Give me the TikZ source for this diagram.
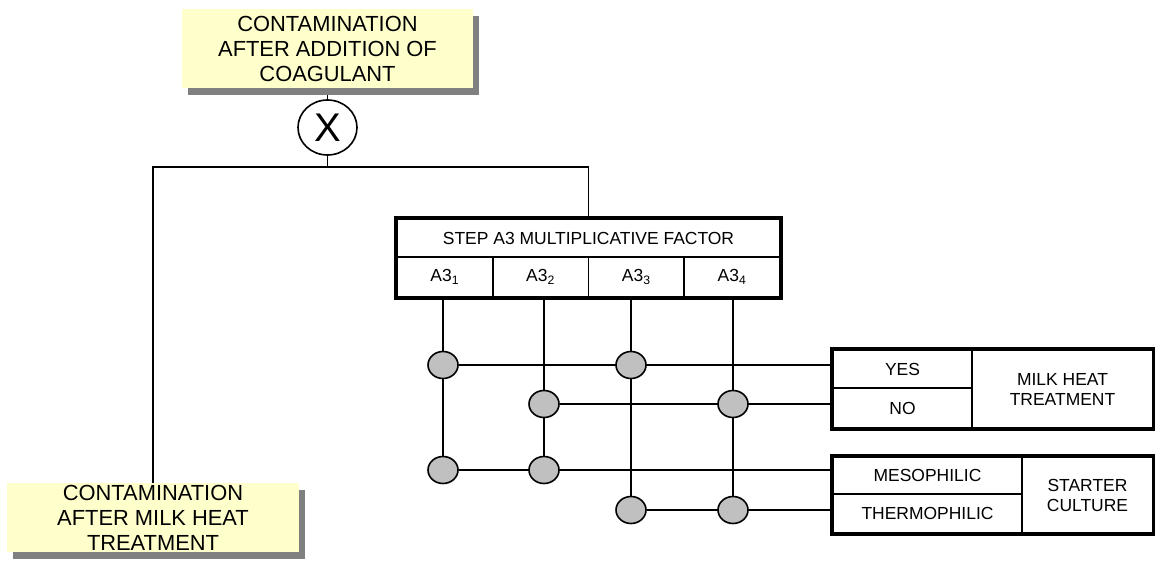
\documentclass[tikz,border=0pt]{standalone}
\usepackage{fontspec}
\setmainfont{Liberation Sans}
\usetikzlibrary{shadows,shapes.geometric,backgrounds}
\definecolor{notefill}{HTML}{FFFFCC}
\definecolor{shadowgray}{HTML}{808080}
\definecolor{dotgray}{HTML}{C0C0C0}
\begin{document}
\begin{tikzpicture}[x=0.75pt,y=-0.75pt,
  conn/.style={line width=1.2pt},
  frame/.style={line width=3.4pt},
  notebox/.style={rectangle,fill=notefill,inner sep=0pt,align=center,
    font=\fontsize{16.4pt}{18.75pt}\selectfont,
    drop shadow={shadow xshift=4.5pt,shadow yshift=-5.25pt,fill=shadowgray,opacity=1}},
  cell/.style={rectangle,draw,line width=1.2pt,inner sep=0pt,align=center,
    font=\fontsize{13.1pt}{15pt}\selectfont},
  dot/.style={ellipse,draw,line width=1.2pt,fill=dotgray,inner sep=0pt,
    minimum width=22.5pt,minimum height=20.25pt},
  multnode/.style={ellipse,draw,line width=1.2pt,fill=white,inner sep=0pt,
    minimum width=44.25pt,minimum height=41.25pt,font=\fontsize{30pt}{32pt}\selectfont}]
\useasboundingbox (0,0) rectangle (1155,570);

% contamination boxes
\node[notebox,minimum width=218.25pt,minimum height=59.25pt] (topbox) at (327.5,48.5)
  {CONTAMINATION\\AFTER ADDITION OF\\COAGULANT};
\node[notebox,minimum width=219pt,minimum height=51.75pt] (botbox) at (153,517.5)
  {CONTAMINATION\\AFTER MILK HEAT\\TREATMENT};

% multiplication operator
\node[multnode] (mult) at (327.5,127.5) {X};
\coordinate (j) at (327.5,167);

% step A3 table
\node[cell,minimum width=287.25pt,minimum height=28.5pt] (steptitle) at (588.5,238)
  {STEP A3 MULTIPLICATIVE FACTOR};
\node[cell,minimum width=71.8125pt,minimum height=30pt] (a1) at (444.875,277) {A3\textsubscript{1}};
\node[cell,minimum width=71.8125pt,minimum height=30pt] (a2) at (540.625,277) {A3\textsubscript{2}};
\node[cell,minimum width=71.8125pt,minimum height=30pt] (a3) at (636.375,277) {A3\textsubscript{3}};
\node[cell,minimum width=71.8125pt,minimum height=30pt] (a4) at (732.125,277) {A3\textsubscript{4}};
\draw[frame] (steptitle.north west) rectangle (a4.south east);

% milk heat treatment table
\node[cell,minimum width=104.25pt,minimum height=28.5pt] (yes) at (902.5,369) {YES};
\node[cell,minimum width=104.25pt,minimum height=30pt] (no) at (902.5,408) {NO};
\node[cell,minimum width=135.75pt,minimum height=58.5pt] (milk) at (1062.5,389)
  {MILK HEAT\\TREATMENT};
\draw[frame] (yes.north west) rectangle (milk.south east);

% starter culture table
\node[cell,minimum width=141.75pt,minimum height=27.75pt] (meso) at (927.5,475.5) {MESOPHILIC};
\node[cell,minimum width=141.75pt,minimum height=29.25pt] (thermo) at (927.5,513.5) {THERMOPHILIC};
\node[cell,minimum width=98.25pt,minimum height=57pt] (starter) at (1087.5,495)
  {STARTER\\CULTURE};
\draw[frame] (meso.north west) rectangle (starter.south east);

% combination points
\node[dot] (d11) at (443,365) {};
\node[dot] (d13) at (631,365) {};
\node[dot] (d22) at (544,404) {};
\node[dot] (d24) at (733,404) {};
\node[dot] (d31) at (443,470) {};
\node[dot] (d32) at (544,470) {};
\node[dot] (d43) at (631,510) {};
\node[dot] (d44) at (733,510) {};

% connectors
\begin{pgfonlayer}{background}
\draw[conn] (topbox.south) -- (mult.north);
\draw[conn] (mult.south) -- (j);
\draw[conn] (j) -| (botbox.north);
\draw[conn] (j) -| (steptitle.north);
\draw[conn] (d31) -- (d31 |- a1.south);
\draw[conn] (d32) -- (d32 |- a2.south);
\draw[conn] (d43) -- (d43 |- a3.south);
\draw[conn] (d44) -- (d44 |- a4.south);
\draw[conn] (d11) -- (d11 -| yes.west);
\draw[conn] (d22) -- (d22 -| no.west);
\draw[conn] (d31) -- (d31 -| meso.west);
\draw[conn] (d43) -- (d43 -| thermo.west);
\end{pgfonlayer}
\end{tikzpicture}
\end{document}
